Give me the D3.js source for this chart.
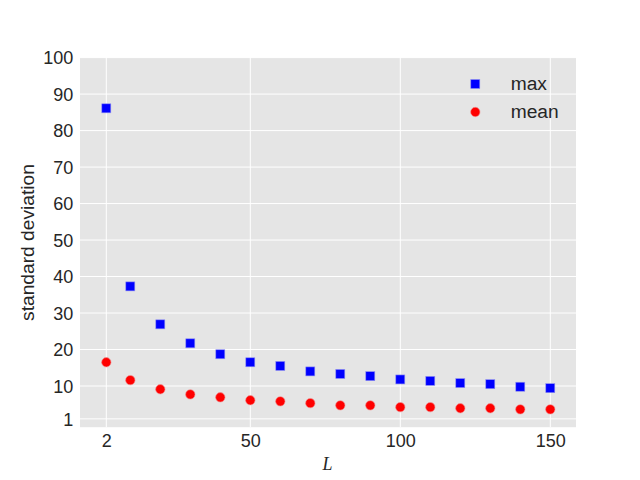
<!DOCTYPE html>
<html>
<head>
<meta charset="utf-8">
<script src="https://cdn.jsdelivr.net/npm/d3@7"></script>
<style>
  html, body { margin: 0; padding: 0; background: #ffffff; }
  svg { display: block; }
  text { font-family: "Liberation Sans", Arial, sans-serif; fill: #262626; }
</style>
</head>
<body>
<svg id="chart" width="640" height="480"></svg>
<script>
const L = [2, 10, 20, 30, 40, 50, 60, 70, 80, 90, 100, 110, 120, 130, 140, 150];
const maxValues = [86.1, 37.3, 26.9, 21.7, 18.7, 16.5, 15.5, 14.0, 13.3, 12.7, 11.8, 11.4, 10.8, 10.5, 9.8, 9.4];
const meanValues = [16.5, 11.6, 9.1, 7.7, 6.9, 6.1, 5.8, 5.3, 4.7, 4.7, 4.2, 4.2, 3.9, 3.9, 3.6, 3.6];
const xTicks = [2, 50, 100, 150];
const yTicks = [1, 10, 20, 30, 40, 50, 60, 70, 80, 90, 100];
const seriesNames = ["max", "mean"];
const seriesColors = ["#0000ff", "#ff0000"];

(function () {
const svg = d3.select("#chart");
const pL = 80, pR = 576, pT = 57.6, pB = 427.2;
const fs = 18;
const fsLab = 19.2;

const x = d3.scaleLinear().domain([-6.77, 158.57]).range([pL, pR]);
const y = d3.scaleLinear().domain([-1.29, 100]).range([pB, pT]);

svg.append("rect").attr("x", pL).attr("y", pT)
  .attr("width", pR - pL).attr("height", pB - pT).attr("fill", "#e5e5e5");

// grid
svg.append("g").selectAll("line").data(xTicks).join("line")
  .attr("x1", d => x(d)).attr("x2", d => x(d))
  .attr("y1", pT).attr("y2", pB)
  .attr("stroke", "#ffffff").attr("stroke-width", 1);
svg.append("g").selectAll("line").data(yTicks).join("line")
  .attr("x1", pL).attr("x2", pR)
  .attr("y1", d => y(d)).attr("y2", d => y(d))
  .attr("stroke", "#ffffff").attr("stroke-width", 1);

// axes via d3
const xAxis = d3.axisBottom(x).tickValues(xTicks).tickSize(0).tickPadding(0).tickFormat(d3.format("d"));
const gx = svg.append("g").attr("transform", `translate(0,${pB})`).call(xAxis);
gx.select(".domain").remove();
gx.selectAll("text").attr("font-size", fs).attr("dy", null).attr("y", 19.4)
  .attr("font-family", "Liberation Sans, Arial, sans-serif").attr("fill", "#262626");

const yAxis = d3.axisLeft(y).tickValues(yTicks).tickSize(0).tickPadding(0).tickFormat(d3.format("d"));
const gy = svg.append("g").attr("transform", `translate(${pL},0)`).call(yAxis);
gy.select(".domain").remove();
gy.selectAll("text").attr("font-size", fs).attr("x", -6.7).attr("dy", "0.35em")
  .attr("font-family", "Liberation Sans, Arial, sans-serif").attr("fill", "#262626");

// labels
svg.append("text").attr("transform", `translate(33.5,242.5) rotate(-90)`)
  .attr("text-anchor", "middle").attr("font-size", fsLab).text("standard deviation");
svg.append("text").attr("x", 327.5).attr("y", 469.5)
  .attr("text-anchor", "middle").attr("font-size", 18)
  .style("font-family", "'Liberation Serif', 'Times New Roman', serif")
  .style("font-style", "italic").text("L");

// data
const side = 9;
svg.append("g").selectAll("rect").data(L).join("rect")
  .attr("x", (d) => x(d) - side / 2)
  .attr("y", (d, i) => y(maxValues[i]) - side / 2)
  .attr("width", side).attr("height", side)
  .attr("fill", seriesColors[0]).attr("stroke", "#8f8ff2").attr("stroke-width", 0.6);

svg.append("g").selectAll("circle").data(L).join("circle")
  .attr("cx", d => x(d))
  .attr("cy", (d, i) => y(meanValues[i]))
  .attr("r", 4.7)
  .attr("fill", seriesColors[1]).attr("stroke", "#f29090").attr("stroke-width", 0.6);

// legend
const lg = svg.append("g");
lg.append("rect").attr("x", 475.3 - side / 2).attr("y", 84 - side / 2)
  .attr("width", side).attr("height", side)
  .attr("fill", seriesColors[0]).attr("stroke", "#8f8ff2").attr("stroke-width", 0.6);
lg.append("circle").attr("cx", 475.3).attr("cy", 112).attr("r", 4.7)
  .attr("fill", seriesColors[1]).attr("stroke", "#f29090").attr("stroke-width", 0.6);
lg.append("text").attr("x", 510.7).attr("y", 89.5).attr("font-size", fsLab).text(seriesNames[0]);
lg.append("text").attr("x", 510.7).attr("y", 117.8).attr("font-size", fsLab).text(seriesNames[1]);
})();
</script>
</body>
</html>
